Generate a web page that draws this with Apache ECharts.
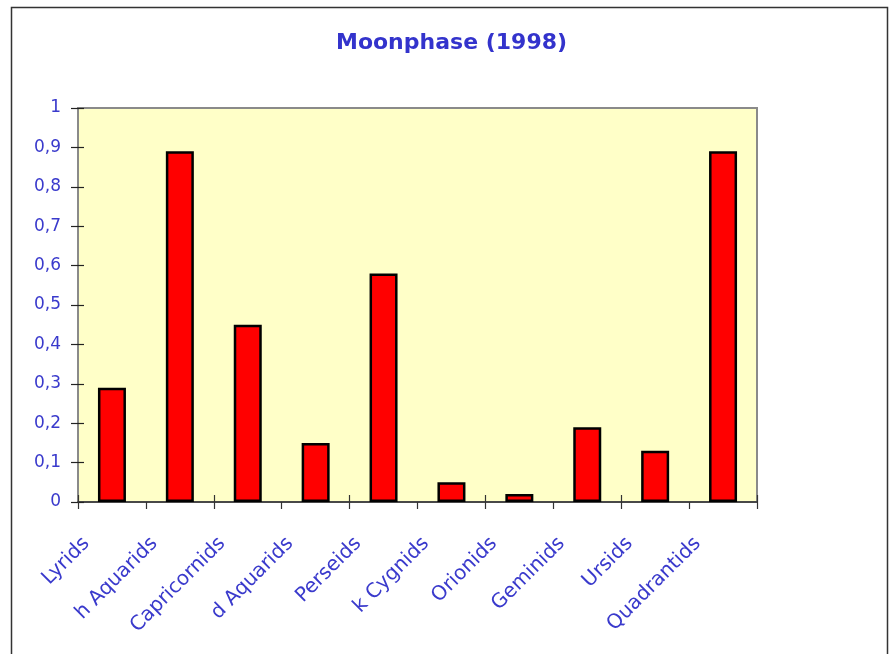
<!DOCTYPE html>
<html>
<head>
<meta charset="utf-8">
<script src="https://cdn.jsdelivr.net/npm/echarts@6/dist/echarts.min.js"></script>
<style>
  html, body { margin: 0; padding: 0; background: #fff; }
  #chart { width: 891px; height: 654px; }
</style>
</head>
<body>
<div id="chart"></div>
<script>
const showers = ['Lyrids', 'h Aquarids', 'Capricornids', 'd Aquarids', 'Perseids', 'k Cygnids', 'Orionids', 'Geminids', 'Ursids', 'Quadrantids']
const moonphase = [0.29, 0.89, 0.45, 0.15, 0.58, 0.05, 0.02, 0.19, 0.13, 0.89]

const blue = '#3a3acc'
const font = '"DejaVu Sans", "Liberation Sans", Arial, sans-serif'

const chart = echarts.init(document.getElementById('chart'))

// y labels use a decimal comma, like the original
function fmt(v) {
  return String(parseFloat(v.toFixed(1))).replace('.', ',')
}

const option = {
  backgroundColor: '#fff',
  animation: false,
  title: {
    text: 'Moonphase (1998)',
    left: 331,
    top: 27,
    textStyle: { color: '#3333cc', fontSize: 22, fontWeight: 'bold', fontFamily: font },
  },
  graphic: [
    {
      type: 'rect',
      silent: true,
      shape: { x: 11.5, y: 7.5, width: 876, height: 700 },
      style: { fill: 'none', stroke: '#333', lineWidth: 1.5 },
    },
  ],
  grid: {
    left: 78, right: 134, top: 108, bottom: 152,
    show: true,
    backgroundColor: '#ffffc8',
    borderColor: '#8a8a8a',
    borderWidth: 2,
  },
  xAxis: [
    {
      type: 'category',
      data: showers,
      axisLine: { lineStyle: { color: '#333', width: 1.5 } },
      axisTick: { show: true, length: 7, lineStyle: { color: '#333', width: 1.2 } },
      axisLabel: {
        color: blue, fontSize: 20, fontFamily: font,
        rotate: 45, interval: 0, margin: 13,
        padding: [0, 36, 0, 0],
      },
    },
    {
      type: 'category',
      data: showers,
      position: 'bottom',
      axisLine: { show: false },
      axisTick: { show: true, inside: true, length: 7, lineStyle: { color: '#333', width: 1.2 } },
      axisLabel: { show: false },
    },
  ],
  yAxis: [
    {
      type: 'value',
      min: 0, max: 1, interval: 0.1,
      axisLine: { show: true, lineStyle: { color: '#8a8a8a', width: 2 } },
      axisTick: { show: true, length: 7, lineStyle: { color: '#222', width: 1.2 } },
      splitLine: { show: false },
      axisLabel: { color: blue, fontSize: 17, fontFamily: font, margin: 17, formatter: fmt },
    },
    {
      type: 'value',
      min: 0, max: 1, interval: 0.1,
      position: 'left',
      axisLine: { show: false },
      axisTick: { show: true, inside: true, length: 6, lineStyle: { color: '#222', width: 1.2 } },
      splitLine: { show: false },
      axisLabel: { show: false },
    },
  ],
  series: [
    {
      name: 'Moonphase',
      type: 'bar',
      data: moonphase,
      barWidth: 28,
      itemStyle: { color: '#ff0000', borderColor: '#000', borderWidth: 2.5 },
    },
  ],
}

chart.setOption(option)
</script>
</body>
</html>
